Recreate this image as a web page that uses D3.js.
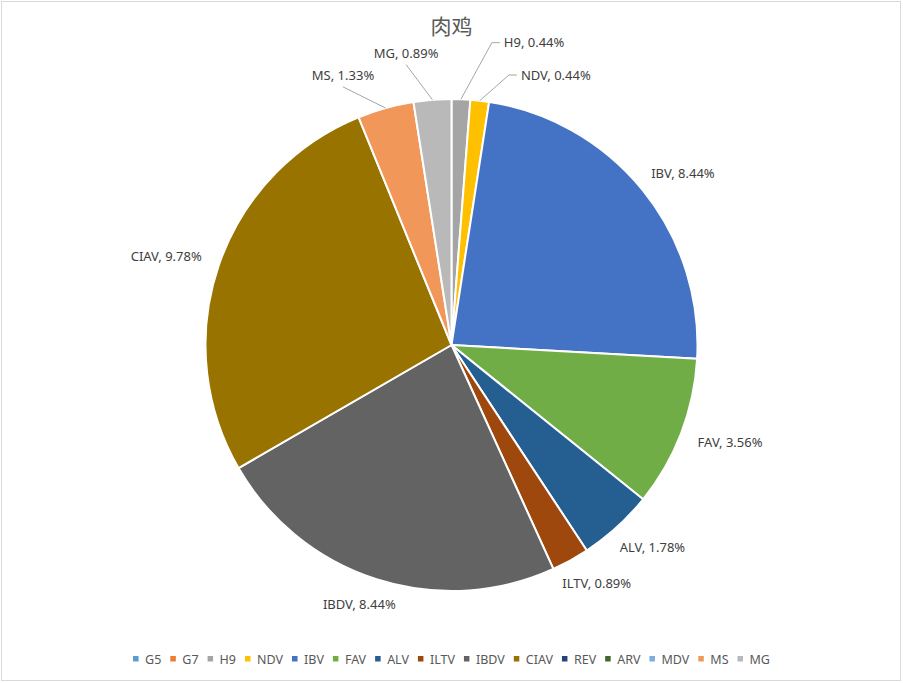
<!DOCTYPE html>
<html>
<head>
<meta charset="utf-8">
<script src="https://cdn.jsdelivr.net/npm/d3@7/dist/d3.min.js"></script>
<style>
  html, body { margin: 0; padding: 0; background: #fff; }
  svg { display: block; }
</style>
</head>
<body>
<svg id="chart" width="903" height="683"></svg>
<script>
// ---- data ----
const title = "肉鸡";
const categories = ["G5","G7","H9","NDV","IBV","FAV","ALV","ILTV","IBDV","CIAV","REV","ARV","MDV","MS","MG"];
const values = [0, 0, 0.44, 0.44, 8.44, 3.56, 1.78, 0.89, 8.44, 9.78, 0, 0, 0, 1.33, 0.89];
const colors = ["#5B9BD5","#ED7D31","#A5A5A5","#FFC000","#4472C4","#70AD47","#255E91","#9E480E","#636363","#997300","#264478","#43682B","#7CAFDD","#F1975A","#B9B9B9"];

// ---- layout (not data) ----
const W = 903, H = 683;
const cx = 451.5, cy = 345, R = 246;
const labelFont = "'Noto Sans', 'DejaVu Sans', sans-serif";
// leader-line labels: elbow given in polar coords (degrees clockwise from top, radius)
const leaderLayout = {
  "H9":  { angle: 7.6,   radius: 305, side: "right" },
  "NDV": { angle: 12.0,  radius: 276, side: "right" },
  "MG":  { angle: -9.2,  radius: 284, side: "top" },
  "MS":  { angle: -22.8, radius: 280, side: "top" }
};

const svg = d3.select("#chart");

// border
svg.append("rect")
  .attr("x", 1.5).attr("y", 1.5)
  .attr("width", 899).attr("height", 679)
  .attr("fill", "#fff").attr("stroke", "#D9D9D9").attr("stroke-width", 1);

// title
svg.append("text")
  .attr("x", cx).attr("y", 34)
  .attr("text-anchor", "middle")
  .attr("font-family", "'Noto Sans CJK SC', sans-serif")
  .attr("font-size", 21)
  .attr("fill", "#595959")
  .text(title);

const color = d3.scaleOrdinal().domain(categories).range(colors);
const data = categories.map((c, i) => ({ name: c, value: values[i] }));

const pie = d3.pie().sort(null).value(d => d.value).startAngle(0).endAngle(2 * Math.PI);
const arcs = pie(data);
const arc = d3.arc().innerRadius(0).outerRadius(R);

const g = svg.append("g").attr("transform", `translate(${cx},${cy})`);

g.selectAll("path.slice")
  .data(arcs.filter(d => d.value > 0))
  .join("path")
  .attr("class", "slice")
  .attr("d", arc)
  .attr("fill", d => color(d.data.name))
  .attr("stroke", "#fff")
  .attr("stroke-width", 2)
  .attr("stroke-linejoin", "round");

const fmt = v => v.toFixed(2) + "%";
const polar = (angDeg, r) => {
  const a = angDeg * Math.PI / 180;
  return [r * Math.sin(a), -r * Math.cos(a)];
};

const labelG = g.append("g");
arcs.filter(d => d.value > 0).forEach(d => {
  const mid = (d.startAngle + d.endAngle) / 2;
  const midDeg = mid * 180 / Math.PI;
  const txt = d.data.name + ", " + fmt(d.data.value);
  const t = labelG.append("text")
    .attr("font-family", labelFont)
    .attr("font-size", 13)
    .attr("fill", "#404040")
    .text(txt);
  const w = t.node().getComputedTextLength();
  const h = 14;
  const lay = leaderLayout[d.data.name];
  if (lay) {
    const [sx, sy] = polar(midDeg, R);
    const [ex, ey] = polar(lay.angle, lay.radius);
    if (lay.side === "right") {
      labelG.append("polyline")
        .attr("points", `${sx},${sy} ${ex},${ey} ${ex + 8},${ey}`)
        .attr("fill", "none").attr("stroke", "#A6A6A6").attr("stroke-width", 1);
      t.attr("x", ex + 12).attr("y", ey + 4.5).attr("text-anchor", "start");
    } else {
      labelG.append("line")
        .attr("x1", sx).attr("y1", sy).attr("x2", ex).attr("y2", ey)
        .attr("stroke", "#A6A6A6").attr("stroke-width", 1);
      t.attr("x", ex).attr("y", ey - 6.5).attr("text-anchor", "middle");
    }
  } else {
    const [px, py] = polar(midDeg, R + 20);
    const lx = px + Math.sin(mid) * w / 2;
    const ly = py - Math.cos(mid) * h / 2;
    t.attr("x", lx).attr("y", ly + 4.5).attr("text-anchor", "middle");
  }
});

// legend
const legend = svg.append("g");
const items = [];
let x = 0;
categories.forEach((c, i) => {
  const it = legend.append("g");
  it.append("rect")
    .attr("x", 0).attr("y", -3)
    .attr("width", 5.5).attr("height", 5.5)
    .attr("fill", colors[i]);
  const t = it.append("text")
    .attr("x", 12).attr("y", 4.5)
    .attr("font-family", labelFont)
    .attr("font-size", 12.5)
    .attr("fill", "#595959")
    .text(c);
  const w = t.node().getComputedTextLength();
  items.push({ node: it, x: x });
  x += 12 + w + 9;
});
const total = x - 9;
const startX = cx - total / 2;
items.forEach(d => d.node.attr("transform", `translate(${startX + d.x},659)`));
</script>
</body>
</html>
